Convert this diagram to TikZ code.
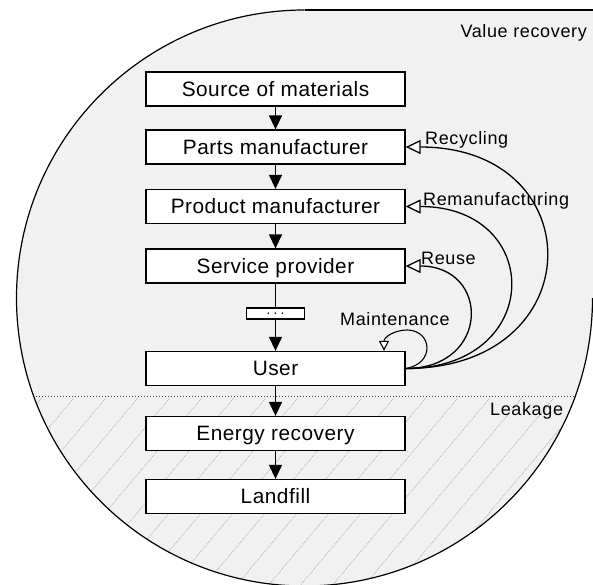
\documentclass[tikz,border=0pt]{standalone}
\usepackage{fontspec}
\setmainfont{Liberation Sans}
\newfontfamily\boxfont[LetterSpace=2.5]{Liberation Sans}
\newfontfamily\labfont[LetterSpace=3.5]{Liberation Sans}
\usetikzlibrary{arrows.meta}
\definecolor{regionfill}{RGB}{241,241,241}
\definecolor{hatchgray}{RGB}{165,165,165}
\definecolor{divgray}{RGB}{70,70,70}
\begin{document}
\begin{tikzpicture}[x=1pt,y=-1pt,
  stepbox/.style={draw, line width=1.3pt, fill=white, minimum width=259pt, minimum height=34pt, inner sep=0pt, text height=14.9pt, text depth=0pt, font=\boxfont\fontsize{20.8}{24}\selectfont},
  lab/.style={font=\labfont\fontsize{18}{21}\selectfont, inner sep=0pt},
  flow/.style={line width=1.3pt, -{Triangle[length=14pt,width=13pt]}},
  fb/.style={line width=1.3pt, -{Triangle[fill=white,length=15pt,width=14pt]}},
  mloop/.style={line width=1.1pt, -{Triangle[fill=white,length=10pt,width=10pt]}},
]
\useasboundingbox (0,0) rectangle (593,584);
\fill[white] (0,0) rectangle (593,584);
% region
\begin{scope}
  \clip (0,0) rectangle (593,584);
  \fill[regionfill] (304.5,298) circle[radius=288];
  \fill[regionfill] (304.5,10) rectangle (600,298);
  \begin{scope}
    \clip (304.5,298) circle[radius=288];
    \clip (0,396) rectangle (600,600);
    \foreach \k in {-6,...,19}
      \draw[hatchgray, line width=0.7pt, densely dotted] (\k*32,600) -- ++(190,-226);
    \draw[divgray, line width=1pt, dotted] (0,396) -- (600,396);
  \end{scope}
  \begin{scope}
    \clip (-10,-10) rectangle (304.5,600) (304.5,298) rectangle (600,600);
    \draw[line width=1.2pt] (304.5,298) circle[radius=288];
  \end{scope}
  \draw[line width=1.2pt] (304.5,10) -- (600,10);
\end{scope}
% boxes
\node[stepbox] (src) at (275.5,89) {Source of materials};
\node[stepbox] (parts) at (275.5,147) {Parts manufacturer};
\node[stepbox] (prod) at (275.5,206.5) {Product manufacturer};
\node[stepbox] (serv) at (275.5,266) {Service provider};
\node[draw, line width=1.1pt, fill=white, minimum width=58pt, minimum height=11pt, inner sep=0pt, text height=0pt, text depth=0pt, font=\fontsize{14}{14}\selectfont] (dots) at (275.5,313.5) {\raisebox{-4.3pt}{·\,·\,·}};
\node[stepbox] (user) at (275.5,368.5) {User};
\node[stepbox] (energy) at (275.5,433.5) {Energy recovery};
\node[stepbox] (land) at (275.5,496.5) {Landfill};
\coordinate (mt) at ([xshift=108.5pt]user.north);
% labels
\node[lab, anchor=base east] (vr) at (587,37.5) {Value recovery};
\node[lab, anchor=base west] (rec) at (425,144.5) {Recycling};
\node[lab, anchor=base west] (reman) at (423,205.5) {Remanufacturing};
\node[lab, anchor=base west] (reuse) at (421,264) {Reuse};
\node[lab, anchor=base west] (maint) at (340,325.5) {Maintenance};
\node[lab, anchor=base west] (leak) at (490,415) {Leakage};
% flow
\draw[flow] (src) -- (parts);
\draw[flow] (parts) -- (prod);
\draw[flow] (prod) -- (serv);
\draw[line width=1.3pt] (serv) -- (dots);
\draw[flow] (dots) -- (user);
\draw[flow] (user) -- (energy);
\draw[flow] (energy) -- (land);
% feedback
\draw[fb] (user.east) .. controls +(187,0) and +(187,0) .. (parts.east);
\draw[fb] (user.east) .. controls +(139,0) and +(139,0) .. (prod.east);
\draw[fb] (user.east) .. controls +(85,0) and +(85,0) .. (serv.east);
\draw[mloop] (user.east) .. controls +(30,-5) and +(25,0) .. (407,330) .. controls +(-12,0) and +(0,-14) .. (mt);
\end{tikzpicture}
\end{document}
